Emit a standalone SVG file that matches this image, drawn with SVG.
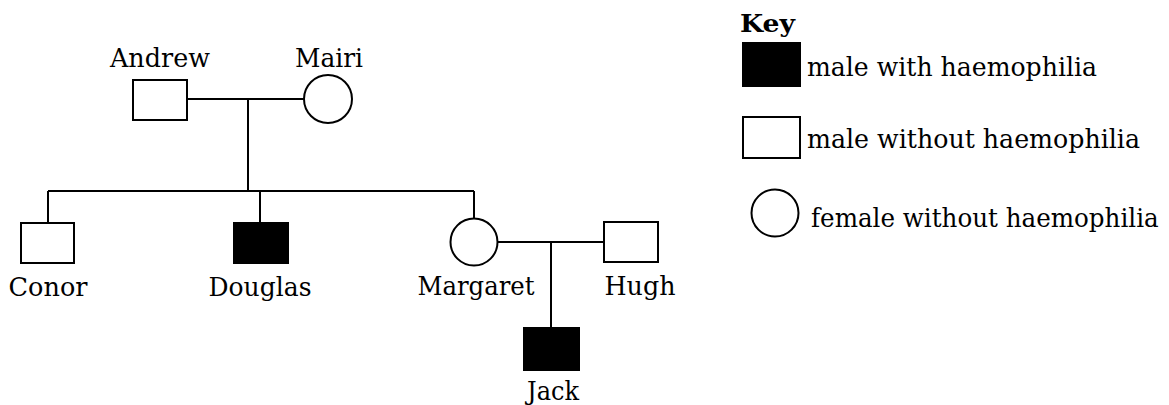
<svg xmlns="http://www.w3.org/2000/svg" width="1169" height="405" viewBox="0 0 1169 405">
  <style>
    .shape { fill: #ffffff; stroke: #000000; stroke-width: 2; }
    .affected { fill: #000000; stroke: #000000; stroke-width: 2; }
    .link { fill: none; stroke: #000000; stroke-width: 2; }
    text { font-family: 'DejaVu Serif', serif; fill: #000000; }
    .name { font-size: 26px; text-anchor: middle; }
    .keytext { font-size: 26px; }
    .keytitle { font-size: 25px; font-weight: bold; }
  </style>
  <rect width="1169" height="405" fill="#ffffff"/>

  <!-- connectors: couple lines, sibship line and descent lines -->
  <g id="connectors">
    <path class="link" d="M187 99 H304"/>
    <path class="link" d="M248 99 V191"/>
    <path class="link" d="M48 191 H474"/>
    <path class="link" d="M48 191 V223"/>
    <path class="link" d="M260 191 V223"/>
    <path class="link" d="M474 191 V218.5"/>
    <path class="link" d="M498 242 H604"/>
    <path class="link" d="M551 242 V328"/>
  </g>

  <g id="andrew">
    <rect class="shape" x="133" y="80" width="54" height="40"/>
    <text class="name" x="160" y="67" textLength="100" lengthAdjust="spacingAndGlyphs">Andrew</text>
  </g>
  <g id="mairi">
    <circle class="shape" cx="328" cy="99" r="24"/>
    <text class="name" x="329" y="67" textLength="68" lengthAdjust="spacingAndGlyphs">Mairi</text>
  </g>
  <g id="conor">
    <rect class="shape" x="21" y="223" width="53" height="40"/>
    <text class="name" x="48" y="296" textLength="79" lengthAdjust="spacingAndGlyphs">Conor</text>
  </g>
  <g id="douglas">
    <rect class="affected" x="234" y="223" width="54" height="40"/>
    <text class="name" x="260" y="296" textLength="103" lengthAdjust="spacingAndGlyphs">Douglas</text>
  </g>
  <g id="margaret">
    <circle class="shape" cx="474" cy="242" r="23.5"/>
    <text class="name" x="476" y="295" textLength="117" lengthAdjust="spacingAndGlyphs">Margaret</text>
  </g>
  <g id="hugh">
    <rect class="shape" x="604" y="222" width="54" height="40"/>
    <text class="name" x="640" y="295" textLength="71" lengthAdjust="spacingAndGlyphs">Hugh</text>
  </g>
  <g id="jack">
    <rect class="affected" x="524" y="328" width="55" height="42"/>
    <text class="name" x="553" y="400" textLength="52" lengthAdjust="spacingAndGlyphs">Jack</text>
  </g>

  <!-- legend -->
  <g id="key">
    <text class="keytitle" x="740" y="32" textLength="55" lengthAdjust="spacingAndGlyphs">Key</text>
    <rect class="affected" x="743" y="43" width="57" height="43"/>
    <text class="keytext" x="807" y="76" textLength="290" lengthAdjust="spacingAndGlyphs">male with haemophilia</text>
    <rect class="shape" x="743" y="117" width="57" height="41"/>
    <text class="keytext" x="807" y="148" textLength="333" lengthAdjust="spacingAndGlyphs">male without haemophilia</text>
    <circle class="shape" cx="775" cy="213" r="23.5"/>
    <!-- longest legend line: narrowed horizontally so it stays inside the canvas -->
    <text class="keytext" transform="translate(811 227) scale(0.85 1)" x="0" y="0" textLength="409" lengthAdjust="spacingAndGlyphs">female without haemophilia</text>
  </g>
</svg>
